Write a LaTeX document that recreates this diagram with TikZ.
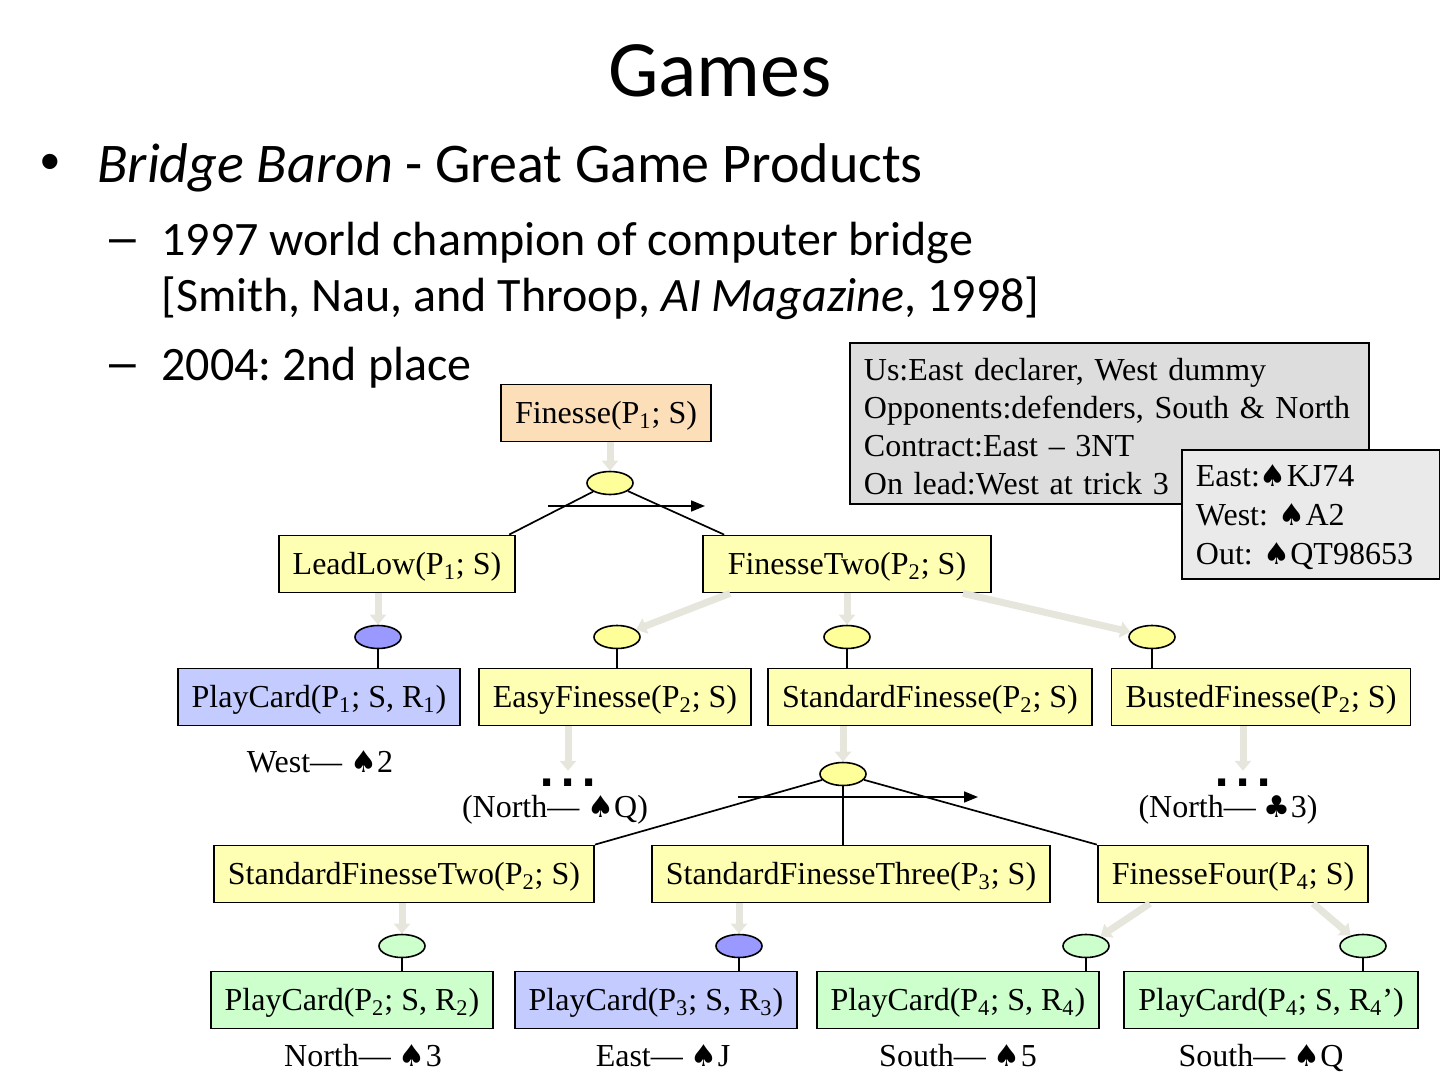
\documentclass[tikz,border=0pt]{standalone}
\usepackage{fontspec}
\setmainfont{Carlito}
\newfontfamily\serifdiag{Liberation Serif}
\newfontfamily\suitfont{DejaVu Sans}
\newfontfamily\bulletfont{Liberation Sans}
\usetikzlibrary{positioning, shapes.geometric, arrows.meta, calc}
\definecolor{peach}{HTML}{FCDFB9}
\definecolor{boxyellow}{HTML}{FFFFB3}
\definecolor{ovalyellow}{HTML}{FFFF99}
\definecolor{boxblue}{HTML}{C4CBFF}
\definecolor{ovalblue}{HTML}{9999FF}
\definecolor{boxgreen}{HTML}{CCFFCC}
\definecolor{notegray}{HTML}{DDDDDD}
\definecolor{handgray}{HTML}{EAEAEA}
\definecolor{flowgray}{HTML}{E6E6DC}
\newcommand\diag{\serifdiag\fontsize{16}{19}\selectfont}
\newcommand\subi[1]{\textsubscript{#1}}
\newcommand\spd{{\suitfont\fontsize{15}{16}\selectfont ♠}}
\newcommand\clb{{\suitfont\fontsize{15}{16}\selectfont ♣}}
\frenchspacing

\begin{document}
\begin{tikzpicture}[x=0.5pt, y=-0.5pt,
    task/.style={draw, line width=0.9pt, fill=boxyellow, font=\diag, inner xsep=7pt, inner ysep=0pt, text height=13pt, text depth=3pt, minimum height=28.5pt},
    oval/.style={draw, ellipse, line width=0.8pt, fill=ovalyellow, minimum width=23pt, minimum height=11.5pt, inner sep=0pt},
    flow/.style={draw=flowgray, line width=3.5pt, -{Triangle[width=8pt,length=5pt]}},
    link/.style={line width=0.85pt},
    order/.style={line width=0.85pt, -{Triangle[width=5.5pt,length=7pt]}},
    lbl/.style={font=\diag, inner sep=0pt, anchor=base},
    ell/.style={font=\suitfont\bfseries\fontsize{20}{20}\selectfont, inner sep=0pt},
    note/.style={draw, line width=0.9pt, font=\diag, anchor=north west, align=left, inner xsep=7pt, inner ysep=3pt},
    slide/.style={anchor=base west, inner sep=0pt}]
  \useasboundingbox (0,0) rectangle (1440,1080);
  % slide text
  \node[anchor=base, inner sep=0pt, font=\fontsize{40}{48}\selectfont] (title) at (720,97) {Games};
  \node[slide, font=\bulletfont\fontsize{28}{34}\selectfont] (dot1) at (40,181) {•};
  \node[slide, font=\fontsize{28}{34}\selectfont] (item1) at (97,183) {\textit{Bridge Baron} - Great Game Products};
  \node[slide, font=\bulletfont\fontsize{24}{29}\selectfont] (dash1) at (109,254) {–};
  \node[slide, font=\fontsize{24}{29}\selectfont] (item2) at (161,256) {1997 world champion of computer bridge};
  \node[slide, font=\fontsize{24}{29}\selectfont] (item2b) at (161,312) {[Smith, Nau, and Throop, \textit{AI Magazine}, 1998]};
  \node[slide, font=\bulletfont\fontsize{24}{29}\selectfont] (dash2) at (109,379) {–};
  \node[slide, font=\fontsize{24}{29}\selectfont] (item3) at (161,381) {2004: 2nd place};
  % notes
  \node[note, fill=notegray, text width=245.5pt, minimum height=80.5pt] (us) at (849,342)
    {\rule{0pt}{14pt}Us:East declarer, West dummy\\Opponents:defenders, South \& North\\Contract:East – 3NT\\On lead:West at trick 3};
  \node[note, fill=handgray, text width=115pt, minimum height=64.5pt] (hands) at (1181,449)
    {\rule{0pt}{14pt}East:\spd KJ74\\[0.5pt]West: \spd A2\\[0.5pt]Out: \spd QT98653};
  % tree
  \node[task, fill=peach] (fin) at (606,413) {Finesse(P\subi1; S)};
  \node[oval] (o1) at (610,483) {};
  \node[task] (lead) at (397,564) {LeadLow(P\subi1; S)};
  \node[task, minimum width=144pt] (fin2) at (847,564) {FinesseTwo(P\subi2; S)};
  \coordinate (ordA) at (548,506);
  \coordinate (ordB) at (705,506);

  \node[oval, fill=ovalblue] (o2) at (378,637) {};
  \node[oval] (o3) at (617,637) {};
  \node[oval] (o4) at (847,637) {};
  \node[oval] (o5) at (1152,637) {};
  \node[task, fill=boxblue] (pc1) at (319,697) {PlayCard(P\subi1; S, R\subi1)};
  \node[task] (easy) at (615,697) {EasyFinesse(P\subi2; S)};
  \node[task] (std) at (930,697) {StandardFinesse(P\subi2; S)};
  \node[task] (bust) at (1261,697) {BustedFinesse(P\subi2; S)};
  \node[lbl] (west) at (320,772) {West— \spd2};

  \node[ell] (dotsa) at (568,783) {.\hspace{3pt}.\hspace{3pt}.};
  \node[ell] (dotsb) at (1243,783) {.\hspace{3pt}.\hspace{3pt}.};
  \node[lbl] (northq) at (555,817) {(North— \spd Q)};
  \node[lbl] (north3) at (1228,817) {(North— \clb3)};
  \node[oval] (o6) at (843,774) {};
  \coordinate (ordC) at (738,797);
  \coordinate (ordD) at (978,797);

  \node[task] (std2) at (404,874) {StandardFinesseTwo(P\subi2; S)};
  \node[task] (std3) at (851,874) {StandardFinesseThree(P\subi3; S)};
  \node[task] (fin4) at (1233,874) {FinesseFour(P\subi4; S)};

  \node[oval, fill=boxgreen] (o7) at (402,946) {};
  \node[oval, fill=ovalblue] (o8) at (739,946) {};
  \node[oval, fill=boxgreen] (o9) at (1086,946) {};
  \node[oval, fill=boxgreen] (o10) at (1363,946) {};
  \node[task, fill=boxgreen] (pc2) at (352,1000) {PlayCard(P\subi2; S, R\subi2)};
  \node[task, fill=boxblue] (pc3) at (656,1000) {PlayCard(P\subi3; S, R\subi3)};
  \node[task, fill=boxgreen] (pc4) at (958,1000) {PlayCard(P\subi4; S, R\subi4)};
  \node[task, fill=boxgreen] (pc5) at (1271,1000) {PlayCard(P\subi4; S, R\subi4’)};
  \node[lbl] (n3) at (363,1066) {North— \spd3};
  \node[lbl] (ej) at (663,1066) {East— \spd J};
  \node[lbl] (s5) at (958,1066) {South— \spd5};
  \node[lbl] (sq) at (1261,1066) {South— \spd Q};

  \draw[flow] (fin.south -| o1) -- (o1);
  \draw[link] (o1) -- ($(lead.north east)+(-7,0)$);
  \draw[link] (o1) -- ($(fin2.north west)+(22,0)$);
  \draw[order] (ordA) -- (ordB);

  \draw[flow] (lead.south -| o2) -- (o2);
  \draw[flow] ($(fin2.south)+(-117,0)$) -- (o3);
  \draw[flow] (fin2.south -| o4) -- (o4);
  \draw[flow] ($(fin2.south)+(116,0)$) -- (o5);
  \draw[link] (o2) -- (o2 |- pc1.north);
  \draw[link] (o3) -- (o3 |- easy.north);
  \draw[link] (o4) -- (o4 |- std.north);
  \draw[link] (o5) -- (o5 |- bust.north);

  \draw[flow] (easy.south -| dotsa) -- ([yshift=4pt]dotsa.north);
  \draw[flow] (std.south -| o6) -- (o6);
  \draw[flow] (bust.south -| dotsb) -- ([yshift=4pt]dotsb.north);
  \draw[link] (o6) -- (std2.north east);
  \draw[link] (o6) -- (o6 |- std3.north);
  \draw[link] (o6) -- (fin4.north west);
  \draw[order] (ordC) -- (ordD);

  \draw[flow] (std2.south -| o7) -- (o7);
  \draw[flow] (std3.south -| o8) -- (o8);
  \draw[flow] ($(fin4.south)+(-83,0)$) -- (o9);
  \draw[flow] ($(fin4.south)+(80,0)$) -- (o10);
  \draw[link] (o7) -- (o7 |- pc2.north);
  \draw[link] (o8) -- (o8 |- pc3.north);
  \draw[link] (o9) -- (o9 |- pc4.north);
  \draw[link] (o10) -- (o10 |- pc5.north);
\end{tikzpicture}
\end{document}
